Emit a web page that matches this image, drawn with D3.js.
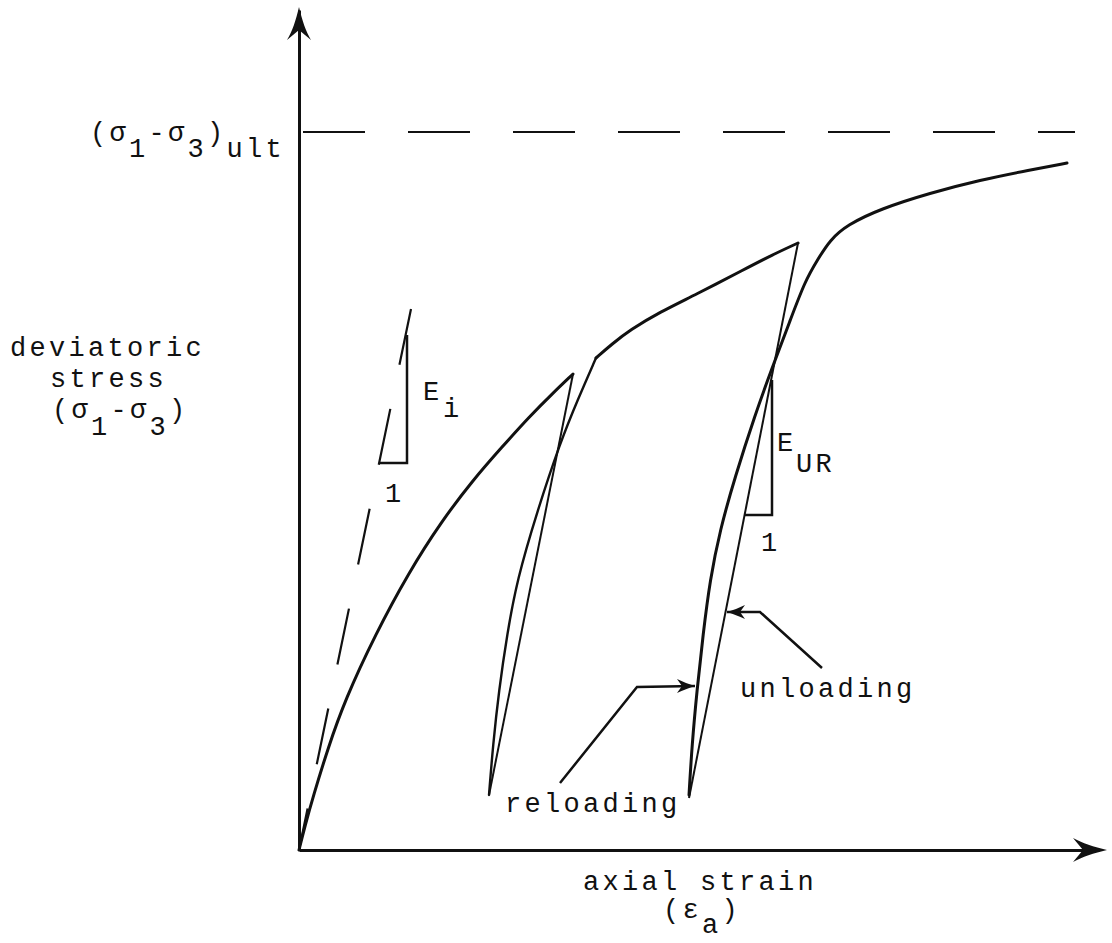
<!DOCTYPE html>
<html>
<head>
<meta charset="utf-8">
<script src="https://cdn.jsdelivr.net/npm/d3@7"></script>
<style>
  html, body { margin: 0; padding: 0; background: #fff; }
  text { font-family: "Liberation Mono", "DejaVu Sans Mono", monospace; font-size: 27px; letter-spacing: 3.3px; fill: #111; }
</style>
</head>
<body>
<div id="chart"></div>
<script>
// values (strain units across, stress units up)
const loading1 = [[0, 0], [0.06, 0.24], [0.14, 0.53], [0.29, 1.02], [0.46, 1.50], [0.76, 2.15], [1.10, 2.78],
  [1.42, 3.28], [1.74, 3.70], [2.03, 4.03], [2.31, 4.34], [2.53, 4.56], [2.74, 4.76]];
const unloading1 = [[2.74, 4.76], [1.90, 0.55]];
const reloading1 = [[1.90, 0.55], [1.94, 1.05], [2.00, 1.60], [2.08, 2.15], [2.18, 2.70], [2.38, 3.38],
  [2.61, 4.07], [2.79, 4.51], [2.97, 4.92]];
const loading2 = [[2.97, 4.92], [3.13, 5.06], [3.31, 5.20], [3.61, 5.38], [3.96, 5.55], [4.46, 5.81],
  [4.73, 5.95], [4.99, 6.07]];
const unloading2 = [[4.99, 6.07], [3.90, 0.52]];
const reloading2 = [[3.90, 0.55], [3.93, 1.05], [3.98, 1.60], [4.04, 2.15], [4.11, 2.70], [4.21, 3.20],
  [4.36, 3.73], [4.56, 4.35], [4.73, 4.82], [4.91, 5.29], [5.06, 5.69], [5.19, 5.91], [5.31, 6.10],
  [5.48, 6.25], [5.81, 6.41], [6.31, 6.57], [6.81, 6.70], [7.31, 6.80], [7.68, 6.87]];
const ultStress = 7.18;
const ultExtent = [0.04, 7.76];
const tangentLine = [[0, 0], [1.12, 5.41]];
const eiTriangle = [[1.08, 5.15], [1.08, 3.87], [0.81, 3.87]];
const eurTriangle = [[4.73, 4.70], [4.73, 3.35], [4.46, 3.35]];
const reloadLeader = [[2.61, 0.67], [3.38, 1.63], [3.96, 1.64]];
const unloadLeader = [[5.23, 1.82], [4.61, 2.38], [4.28, 2.38]];

const width = 1112, height = 943;

const svg = d3.select('#chart').append('svg')
  .attr('width', width)
  .attr('height', height);

const x = d3.scaleLinear().domain([0, 8]).range([299, 1099]);
const y = d3.scaleLinear().domain([0, 8.4]).range([850, 10]);

const line = d3.line().x(d => x(d[0])).y(d => y(d[1]));
const smooth = d3.line().x(d => x(d[0])).y(d => y(d[1])).curve(d3.curveBasis);

// axes without ticks, just the domain lines
svg.append('g')
  .attr('transform', `translate(0,${y(0)})`)
  .call(d3.axisBottom(x).tickValues([]).tickSizeOuter(0))
  .call(g => g.select('.domain').attr('stroke', '#111').attr('stroke-width', 3));
svg.append('g')
  .attr('transform', `translate(${x(0)},0)`)
  .call(d3.axisLeft(y).tickValues([]).tickSizeOuter(0))
  .call(g => g.select('.domain').attr('stroke', '#111').attr('stroke-width', 3));

// axis arrowheads
const tipY = y.range()[1] - 3;
svg.append('path')
  .attr('d', `M${x(0)},${tipY} C${x(0) - 3},${tipY + 13} ${x(0) - 7},${tipY + 25} ${x(0) - 12},${tipY + 33}
    L${x(0)},${tipY + 23} L${x(0) + 12},${tipY + 33} C${x(0) + 7},${tipY + 25} ${x(0) + 3},${tipY + 13} ${x(0)},${tipY} Z`)
  .attr('fill', '#111');
const tipX = x.range()[1] + 8;
svg.append('path')
  .attr('d', `M${tipX},${y(0)} C${tipX - 13},${y(0) - 3} ${tipX - 25},${y(0) - 7} ${tipX - 34},${y(0) - 12}
    L${tipX - 24},${y(0)} L${tipX - 34},${y(0) + 12} C${tipX - 25},${y(0) + 7} ${tipX - 13},${y(0) + 3} ${tipX},${y(0)} Z`)
  .attr('fill', '#111');

// ultimate stress asymptote
svg.append('path')
  .attr('d', line(ultExtent.map(v => [v, ultStress])))
  .attr('fill', 'none')
  .attr('stroke', '#111')
  .attr('stroke-width', 2.2)
  .attr('stroke-dasharray', '62,43');

// initial tangent, dashed from the top
svg.append('path')
  .attr('d', line(tangentLine.slice().reverse()))
  .attr('fill', 'none')
  .attr('stroke', '#111')
  .attr('stroke-width', 2.2)
  .attr('stroke-dasharray', '57,45');

// stress-strain curves
[[loading1, 3], [loading2, 3], [reloading1, 2.4], [reloading2, 3]].forEach(([pts, w]) => {
  svg.append('path')
    .attr('d', smooth(pts))
    .attr('fill', 'none')
    .attr('stroke', '#111')
    .attr('stroke-width', w)
    .attr('stroke-linecap', 'round');
});
[unloading1, unloading2].forEach(pts => {
  svg.append('path')
    .attr('d', line(pts))
    .attr('fill', 'none')
    .attr('stroke', '#111')
    .attr('stroke-width', 2);
});

// modulus triangles
[eiTriangle, eurTriangle].forEach(pts => {
  svg.append('path')
    .attr('d', line(pts))
    .attr('fill', 'none')
    .attr('stroke', '#111')
    .attr('stroke-width', 2.5);
});

// leader lines with arrowheads
function arrowHead(p, dir) {
  const px = x(p[0]), py = y(p[1]);
  const s = dir; // +1 points right, -1 points left
  return `M${px},${py} C${px - s * 6},${py - 2} ${px - s * 12},${py - 4} ${px - s * 18},${py - 7}
    L${px - s * 13},${py} L${px - s * 18},${py + 7} C${px - s * 12},${py + 4} ${px - s * 6},${py + 2} ${px},${py} Z`;
}
[[reloadLeader, 1], [unloadLeader, -1]].forEach(([pts, dir]) => {
  svg.append('path')
    .attr('d', line(pts))
    .attr('fill', 'none')
    .attr('stroke', '#111')
    .attr('stroke-width', 2.5);
  svg.append('path')
    .attr('d', arrowHead(pts[pts.length - 1], dir))
    .attr('fill', '#111');
});

// labels
function label(str, px, py) {
  return svg.append('text').attr('x', px).attr('y', py).text(str);
}
function subLabel(parts, px, py, drop) {
  const t = svg.append('text').attr('x', px).attr('y', py);
  let down = false;
  parts.forEach(([s, sub]) => {
    let dy = 0;
    if (sub && !down) { dy = drop; down = true; }
    else if (!sub && down) { dy = -drop; down = false; }
    t.append('tspan').attr('dy', dy).text(s);
  });
  return t;
}

subLabel([['(σ', false], ['1', true], ['-σ', false], ['3', true], [')', false], ['ult', true]], 90, 141, 16);
label('deviatoric', 10, 356);
label('stress', 50, 387);
subLabel([['(σ', false], ['1', true], ['-σ', false], ['3', true], [')', false]], 52, 418, 17);

label('E', 423, 400);
label('i', 443, 417);
label('1', 385, 502);

label('E', 777, 451);
label('UR', 796, 472);
label('1', 761, 551);

label('reloading', 505, 812);
label('unloading', 740, 697);

label('axial strain', 583, 890);
subLabel([['(ε', false], ['a', true], [')', false]], 663, 918, 15);
</script>
</body>
</html>
